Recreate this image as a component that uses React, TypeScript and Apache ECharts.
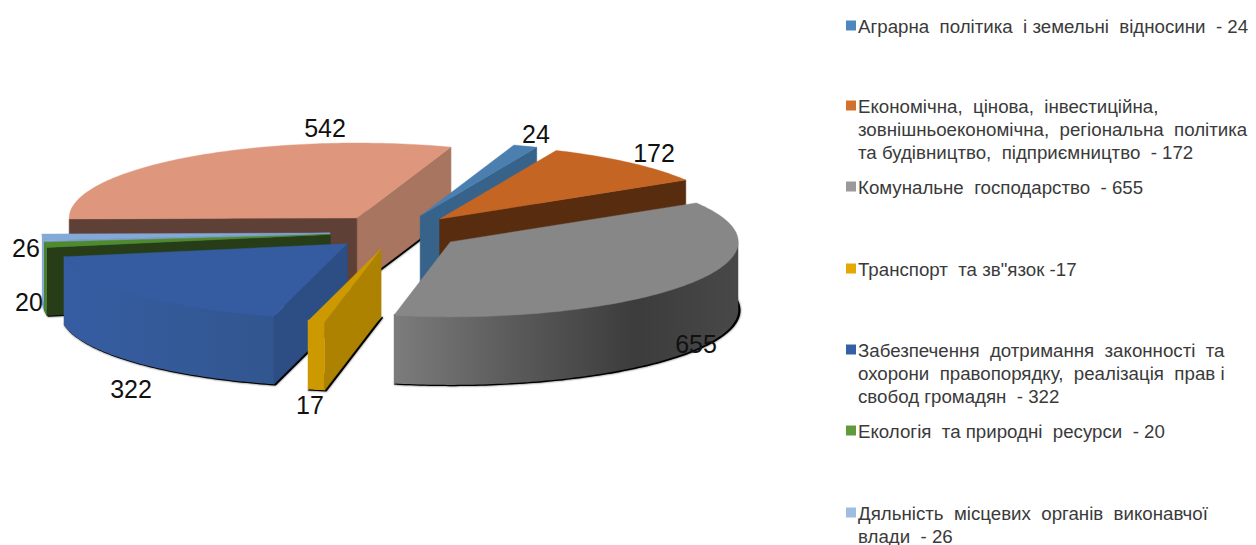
import React, { useEffect, useRef } from "react";
import * as echarts from "echarts";

// ---- data ----
const categories = [
  "Аграрна політика і земельні відносини",
  "Економічна, цінова, інвестиційна, зовнішньоекономічна, регіональна політика та будівництво, підприємництво",
  "Комунальне господарство",
  "Транспорт та зв\"язок",
  "Забезпечення дотримання законності та охорони правопорядку, реалізація прав і свобод громадян",
  "Екологія та природні ресурси",
  "Дяльність місцевих органів виконавчої влади",
  "Інше",
];
const values = [24, 172, 655, 17, 322, 20, 26, 542];
const legendLines = [
  ["Аграрна  політика  і земельні  відносини  - 24"],
  ["Економічна,  цінова,  інвестиційна,", "зовнішньоекономічна,  регіональна  політика", "та будівництво,  підприємництво  - 172"],
  ["Комунальне  господарство  - 655"],
  ["Транспорт  та зв\"язок -17"],
  ["Забезпечення  дотримання  законності  та", "охорони  правопорядку,  реалізація  прав і", "свобод громадян  - 322"],
  ["Екологія  та природні  ресурси  - 20"],
  ["Дяльність  місцевих  органів  виконавчої", "влади  - 26"],
];

// ---- styles & layout ----
const topColors = ["#4a7fb0", "#c46524", "#878787", "#cc9a00", "#355ca0", "#4f8a2f", "#84a9d6", "#de967c"];
const startWallColors = ["#37638a", "#582c0e", "#555", "#ad8200", "#2c4e85", "#263d17", "#7d9fc9", "#5f4036"];
const endWallColors = ["#37638a", "#582c0e", "#555", "#ad8200", "#2c4e85", "#263d17", "#7d9fc9", "#a87660"];
const outerWallStops = [
  ["#37638a", "#37638a"], ["#582c0e", "#582c0e"], ["#7c7c7c", "#3c3c3c"], ["#cc9a00", "#cc9a00"],
  ["#365da2", "#31568f"], ["#4a8030", "#4a8030"], ["#84a9d6", "#84a9d6"], ["#5f4036", "#5f4036"],
];
const legendSwatches = ["#4f86bd", "#d2702e", "#9a9a9a", "#e5a800", "#3560a8", "#5f9a3c", "#9dbde3"];
const legendRowY = [26, 106, 187, 269, 350, 431, 513];
const labelPos: number[][] = [[536, 134], [654, 153], [696, 344], [310, 405], [131, 389], [29, 302], [26, 248], [325, 128]];
const drawOrder = [7, 0, 1, 6, 5, 4, 2, 3];
const CX = 396, CY = 232, RX = 288, RY = 75, DEPTH = 68, EXPLODE = 0.23, FIRST = 19;
const LEGEND_FONT = 18.7, LINE_H = 23;

const total = values.reduce((a, b) => a + b, 0);
const sliceAngles = (() => {
  let acc = FIRST;
  return values.map((v) => {
    const a1 = acc;
    acc += (v / total) * 360;
    return [a1, acc];
  });
})();

const rad = (d: number) => (d * Math.PI) / 180;
const pt = (cx: number, cy: number, deg: number, h = 0) => [cx + RX * Math.sin(rad(deg)), cy - RY * Math.cos(rad(deg)) + h];
const arc = (cx: number, cy: number, a1: number, a2: number, h = 0) => {
  const out: number[][] = [];
  const n = Math.max(2, Math.ceil(a2 - a1));
  for (let i = 0; i <= n; i++) out.push(pt(cx, cy, a1 + ((a2 - a1) * i) / n, h));
  return out;
};

function renderSlice(_: any, api: any) {
  const idx = api.value(0);
  const [a1, a2] = sliceAngles[idx];
  const mid = (a1 + a2) / 2;
  const cx = CX + EXPLODE * RX * Math.sin(rad(mid));
  const cy = CY - EXPLODE * RY * Math.cos(rad(mid));
  const children: any[] = [];
  const poly = (points: number[][], fill: any, extra: any = {}) =>
    children.push({ type: "polygon", shape: { points }, style: { fill, ...extra } });

  // soft shadow under the footprint
  children.push({
    type: "polygon",
    shape: { points: [[cx, cy + DEPTH], ...arc(cx, cy, a1, a2, DEPTH)].map(([x, y]) => [x + 1.5, y + 0.5]) },
    style: { fill: "#000", stroke: "#000", lineWidth: 1.5, shadowBlur: 2, shadowColor: "rgba(0,0,0,0.7)" },
  });
  // cut walls facing the viewer
  const wall = (deg: number, fill: string) => {
    const p = pt(cx, cy, deg);
    poly([[cx, cy], p, [p[0], p[1] + DEPTH], [cx, cy + DEPTH]], fill, { stroke: fill, lineWidth: 0.6 });
  };
  if (Math.sin(rad(a1)) < 0) wall(a1, startWallColors[idx]);
  if (Math.sin(rad(a2)) > 0) wall(a2, endWallColors[idx]);
  // outer wall (front half only); its upper edge runs under the top face so no seam shows
  const f1 = Math.max(a1, 90), f2 = Math.min(a2, 270);
  if (f2 > f1) {
    const stops = outerWallStops[idx];
    const fill = idx === 2
      ? new echarts.graphic.LinearGradient(0, 0, 1, 0, [
          { offset: 0, color: stops[0] },
          { offset: 0.35, color: "#5a5a5a" },
          { offset: 0.7, color: stops[1] },
          { offset: 1, color: "#484848" },
        ])
      : new echarts.graphic.LinearGradient(0, 0, 1, 0, [
          { offset: 0, color: stops[0] },
          { offset: 1, color: stops[1] },
        ]);
    poly([...arc(cx, cy, f1, f2, -1.5), ...arc(cx, cy, f1, f2, DEPTH).reverse()], fill);
  }
  // top face
  poly([[cx, cy], ...arc(cx, cy, a1, a2)], topColors[idx], { stroke: topColors[idx], lineWidth: 0.4 });
  return { type: "group", children };
}

export default function App() {
  const ref = useRef<HTMLDivElement>(null);
  useEffect(() => {
    const chart = echarts.init(ref.current!, undefined, { renderer: "svg" });
    const legendEls: any[] = [];
    legendLines.forEach((lines, i) => {
      legendEls.push({
        type: "rect",
        z: 100,
        shape: { x: 846, y: legendRowY[i] - 5.5, width: 10, height: 10 },
        style: { fill: legendSwatches[i] },
      });
      lines.forEach((line, j) => {
        legendEls.push({
          type: "text",
          z: 100,
          x: 858,
          y: legendRowY[i] + j * LINE_H,
          style: {
            text: line,
            fill: "#3a3a3a",
            font: `${LEGEND_FONT}px "Liberation Sans", Arial, sans-serif`,
            verticalAlign: "middle",
          },
        });
      });
    });
    const labelEls = values.map((v, i) => ({
      type: "text",
      z: 100,
      x: labelPos[i][0],
      y: labelPos[i][1],
      style: {
        text: String(v),
        fill: "#111",
        font: `25px "Liberation Sans", Arial, sans-serif`,
        align: "center",
        verticalAlign: "middle",
      },
    }));
    chart.setOption({
      animation: false,
      backgroundColor: "#fff",
      graphic: { elements: [...legendEls, ...labelEls] },
      series: [
        {
          type: "custom",
          coordinateSystem: "none",
          renderItem: renderSlice,
          silent: true,
          z: 2,
          data: drawOrder.map((i) => ({ name: categories[i], value: [i, values[i]] })),
        },
      ],
    });
    return () => chart.dispose();
  }, []);
  return <div ref={ref} style={{ position: "fixed", left: 0, top: 0, width: 1256, height: 545 }} />;
}
